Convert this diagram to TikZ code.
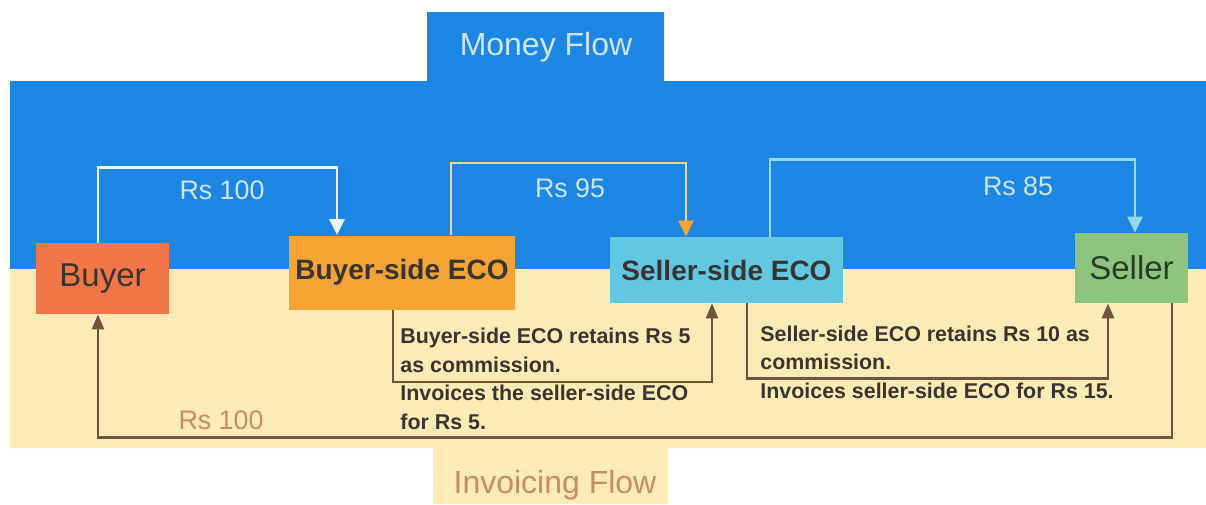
\documentclass[tikz,border=0pt]{standalone}
\usepackage{fontspec}
\setmainfont{Liberation Sans}
\usetikzlibrary{arrows.meta}

\definecolor{bandblue}{RGB}{28,134,226}
\definecolor{bandbeige}{RGB}{252,235,180}
\definecolor{buyerred}{RGB}{243,118,72}
\definecolor{ecoorange}{RGB}{246,163,53}
\definecolor{ecocyan}{RGB}{98,200,226}
\definecolor{sellergreen}{RGB}{142,196,128}
\definecolor{invbrown}{RGB}{112,82,62}
\definecolor{paleyellow}{RGB}{236,216,150}
\definecolor{paleblue}{RGB}{150,215,240}
\definecolor{palewhite}{RGB}{236,245,252}
\definecolor{moneytext}{RGB}{205,228,248}
\definecolor{tantext}{RGB}{200,140,100}
\definecolor{darktext}{RGB}{58,52,48}
\definecolor{sellertext}{RGB}{40,60,40}

\begin{document}
\begin{tikzpicture}[x=0.5pt,y=-0.5pt,
    box/.style={inner sep=0pt, text=darktext},
    ecolabel/.style={box, font=\fontsize{14}{16}\selectfont\bfseries},
    partylabel/.style={box, font=\fontsize{16.5}{18}\selectfont},
    flowlabel/.style={font=\fontsize{16}{18}\selectfont, inner sep=0pt},
    moneylabel/.style={text=moneytext, font=\fontsize{13.4}{15}\selectfont, inner sep=0pt},
    note/.style={anchor=base west, align=left, inner sep=0pt, text=darktext, font=\fontsize{10.7}{14.2}\selectfont\bfseries},
    money/.style={line width=1.3pt, -{Triangle[length=8pt,width=7.5pt]}},
    invoice/.style={draw=invbrown, line width=1.4pt, -{Triangle[length=7.5pt,width=6pt]}}]
    \useasboundingbox (0,0) rectangle (1206,504);
    \fill[bandblue] (10,81) -- (427,81) -- (427,12) -- (664,12) -- (664,81) -- (1206,81) -- (1206,269) -- (10,269) -- cycle;
    \fill[bandbeige] (10,269) -- (1206,269) -- (1206,448) -- (668,448) -- (668,504) -- (433,504) -- (433,448) -- (10,448) -- cycle;

    \node[flowlabel, text=moneytext] (lblMoney) at (546,47) {Money Flow};
    \node[flowlabel, text=tantext] (lblInvoice) at (555,485) {Invoicing Flow};

    \node[partylabel, fill=buyerred, minimum width=66.5pt, minimum height=35.5pt] (buyer) at (102.5,278.5) {Buyer};
    \node[ecolabel, fill=ecoorange, minimum width=113pt, minimum height=37pt] (beco) at (402,272.5) {Buyer-side ECO};
    \node[ecolabel, fill=ecocyan, minimum width=116.5pt, minimum height=33pt] (seco) at (726.5,270) {Seller-side ECO};
    \node[partylabel, fill=sellergreen, text=sellertext, minimum width=56.5pt, minimum height=35pt] (seller) at (1131.5,268) {Seller};

    \foreach \n/\x/\y/\t in {rsA/222/190/Rs 100, rsB/570/188/Rs 95, rsC/1018/186/Rs 85}{\node[moneylabel] (\n) at (\x,\y) {\t};}

    \draw[money, draw=palewhite] ([xshift=-2.25pt]buyer.north) -- ++(0,-75) -| ([xshift=-32.5pt]beco.north);
    \draw[money, draw=paleyellow, -{Triangle[length=8pt,width=7.5pt,color=ecoorange]}] ([xshift=24.5pt]beco.north) -- ++(0,-72) -| ([xshift=-20.25pt]seco.north);
    \draw[money, draw=paleblue] ([xshift=21.75pt]seco.north) -- ++(0,-77) -| ([xshift=1.75pt]seller.north);

    \node[note] (noteB) at (400,429) {Buyer-side ECO retains Rs 5\\as commission.\\Invoices the seller-side ECO\\for Rs 5.};
    \node[note] (noteS) at (760,398) {Seller-side ECO retains Rs 10 as\\commission.\\Invoices seller-side ECO for Rs 15.};

    \draw[invoice] ([xshift=-4.5pt]beco.south) -- ++(0,72) -| ([xshift=-7.25pt]seco.south);
    \draw[invoice] ([xshift=10.25pt]seco.south) -- ++(0,75) -| ([xshift=-11.75pt]seller.south);
    \draw[invoice] ([xshift=20.25pt]seller.south) -- ++(0,134) -| ([xshift=-2.25pt]buyer.south);
    \node[moneylabel, text=tantext] (rsInv) at (221,420) {Rs 100};
\end{tikzpicture}
\end{document}
